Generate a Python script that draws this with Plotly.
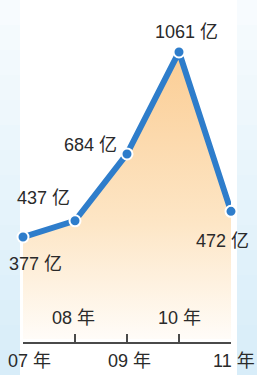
import plotly.graph_objects as go

years = ["07 年", "08 年", "09 年", "10 年", "11 年"]
values = [377, 437, 684, 1061, 472]
value_labels = ["377 亿", "437 亿", "684 亿", "1061 亿", "472 亿"]

W, H = 257, 375
FONT = "Liberation Sans, Arial, Noto Sans CJK SC, sans-serif"
BLUE = "#2e7dcb"

x_idx = list(range(len(years)))

fig = go.Figure()
fig.add_trace(go.Scatter(
    x=x_idx, y=values, mode="lines+markers",
    line=dict(color=BLUE, width=6),
    marker=dict(size=11, color=BLUE, line=dict(color="white", width=2)),
    fill="tozeroy",
    fillgradient=dict(type="vertical", start=0, stop=1061,
                      colorscale=[[0, "#fffcf8"], [0.4, "#fde6c6"], [1, "#fbcd94"]]),
    cliponaxis=False, hoverinfo="skip", showlegend=False,
))

# value labels: offsets in pixels relative to points
offsets = [(12, -27), (-32, 23), (-37, 9), (7, 20), (-9, -30)]
for i, (lab, v) in enumerate(zip(value_labels, values)):
    dx, dy = offsets[i]
    fig.add_annotation(x=i, y=v, xref="x", yref="y", text=lab, showarrow=False,
                       xshift=dx, yshift=dy, xanchor="center", yanchor="middle",
                       font=dict(family=FONT, size=18, color="#2a2a2a"))

# year labels: even below axis, odd above
year_dx = [6, -2, 2, 0, 3]
for i, yl in enumerate(years):
    ys = -19 if i % 2 == 0 else 24
    fig.add_annotation(x=i, y=0.088, xref="x", yref="paper", text=yl, showarrow=False,
                       xshift=year_dx[i], yshift=ys, xanchor="center", yanchor="middle",
                       font=dict(family=FONT, size=18, color="#2a2a2a"))

# soft blue edges of the background
shapes = []
n = 15
for k in range(n):
    t = k / (n - 1)
    r = int(247 - (247 - 216) * t)
    g = int(251 - (251 - 237) * t)
    b = int(254 - (254 - 249) * t)
    col = f"rgb({r},{g},{b})"
    y1 = 1 - k / n
    y0 = 1 - (k + 1) / n
    shapes.append(dict(type="rect", xref="paper", yref="paper", x0=0, x1=20 / W,
                       y0=y0, y1=y1, fillcolor=col, line=dict(width=0), layer="below"))
    shapes.append(dict(type="rect", xref="paper", yref="paper", x0=237 / W, x1=1,
                       y0=y0, y1=y1, fillcolor=col, line=dict(width=0), layer="below"))

fig.update_layout(
    width=W, height=H,
    margin=dict(l=0, r=0, t=0, b=0),
    paper_bgcolor="white", plot_bgcolor="rgba(0,0,0,0)",
    shapes=shapes,
    xaxis=dict(domain=[23 / W, 231 / W], range=[0, 4], showgrid=False, zeroline=False,
               showline=True, linecolor="#4a4a4a", linewidth=2,
               ticks="inside", ticklen=8, tickwidth=1.5, tickcolor="#4a4a4a",
               tickvals=x_idx, showticklabels=False, fixedrange=True),
    yaxis=dict(domain=[1 - 342 / H, 1], range=[-11, 1253], visible=False, fixedrange=True),
)

fig.write_html("out.html", config={"displayModeBar": False},
               post_script="document.body.style.margin='0';document.body.style.padding='0';")
